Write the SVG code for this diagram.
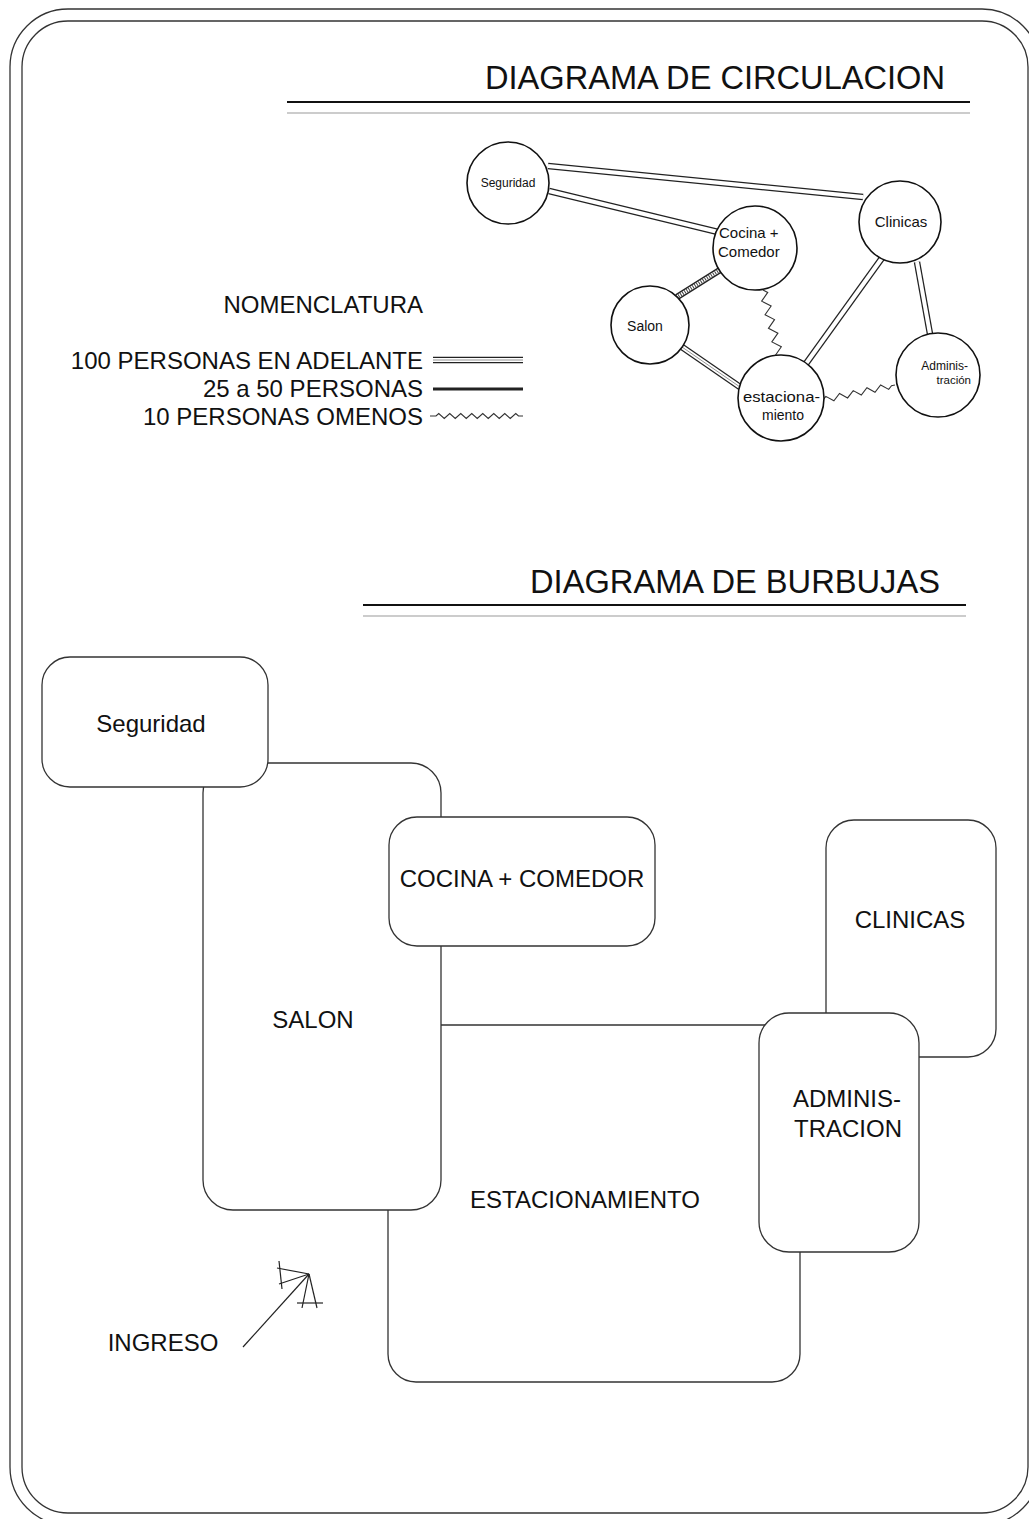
<svg xmlns="http://www.w3.org/2000/svg" width="1029" height="1519" viewBox="0 0 1029 1519">
<style>
text{font-family:"Liberation Sans",Arial,sans-serif;fill:#111}
.t24{font-size:24px}
.title{font-size:34px}
.frame{fill:none;stroke:#333;stroke-width:1.3}
.circ{fill:#fff;stroke:#111;stroke-width:1.6}
.bub{fill:#fff;stroke:#333;stroke-width:1.3}
.dblo{fill:none;stroke:#222;stroke-width:6.5}
.dbli{fill:none;stroke:#fff;stroke-width:4}
.trimid{fill:none;stroke:#888;stroke-width:0.9}
.zig{fill:none;stroke:#333;stroke-width:1.1;stroke-linejoin:miter}
.ln{fill:none;stroke:#222;stroke-width:1.2}
</style>
<rect width="1029" height="1519" fill="#fff"/>
<g id="frame">
<rect class="frame" x="10" y="9" width="1030" height="1516" rx="58"/>
<rect class="frame" x="22" y="21" width="1006" height="1492" rx="46"/>
</g>
<g id="title-circulacion">
<text class="title" x="485" y="89" textLength="460" lengthAdjust="spacingAndGlyphs">DIAGRAMA DE CIRCULACION</text>
<line x1="287" y1="102" x2="970" y2="102" stroke="#111" stroke-width="2.2"/>
<line x1="287" y1="113" x2="970" y2="113" stroke="#999" stroke-width="1.2"/>
</g>
<g id="legend">
<text class="t24" x="423" y="313" text-anchor="end">NOMENCLATURA</text>
<text class="t24" x="423" y="369" text-anchor="end">100 PERSONAS EN ADELANTE</text>
<text class="t24" x="423" y="397" text-anchor="end">25 a 50 PERSONAS</text>
<text class="t24" x="423" y="425" text-anchor="end">10 PERSONAS OMENOS</text>
<line class="dblo" x1="433" y1="360" x2="523" y2="360"/>
<line class="dbli" x1="433" y1="360" x2="523" y2="360"/>
<line class="trimid" x1="433" y1="360" x2="523" y2="360"/>
<line x1="433" y1="389" x2="523" y2="389" stroke="#222" stroke-width="3"/>
<path class="zig" d="M430,416 h6 l2.75,-2.5 l5.5,5 l5.5,-5 l5.5,5 l5.5,-5 l5.5,5 l5.5,-5 l5.5,5 l5.5,-5 l5.5,5 l5.5,-5 l5.5,5 l5.5,-5 l5.5,5 l5.5,-5 l2.75,2.5 h4.5"/>
</g>
<g id="connectors-circulacion">
<line class="dblo" x1="548" y1="166" x2="863" y2="197"/>
<line class="dbli" x1="548" y1="166" x2="863" y2="197"/>
<line class="dblo" x1="549" y1="191" x2="718" y2="232"/>
<line class="dbli" x1="549" y1="191" x2="718" y2="232"/>
<line x1="720" y1="270" x2="677" y2="297" stroke="#222" stroke-width="6.5"/>
<line x1="720" y1="270" x2="677" y2="297" stroke="#fff" stroke-width="3.8"/>
<line x1="720" y1="270" x2="677" y2="297" stroke="#444" stroke-width="3.8" stroke-dasharray="1 1.4"/>
<line class="dblo" x1="682" y1="347" x2="740" y2="387"/>
<line class="dbli" x1="682" y1="347" x2="740" y2="387"/>
<line class="trimid" x1="682" y1="347" x2="740" y2="387"/>
<line class="dblo" x1="882" y1="258" x2="805" y2="365"/>
<line class="dbli" x1="882" y1="258" x2="805" y2="365"/>
<line class="dblo" x1="917" y1="262" x2="930" y2="334"/>
<line class="dbli" x1="917" y1="262" x2="930" y2="334"/>
<path class="zig" transform="translate(763,290) rotate(75.96)" d="M0,0 l3.5,-4 l7,8 l7,-8 l7,8 l7,-8 l7,8 l7,-8 l7,8 l7,-8 l7,8 l3.5,-4"/>
<path class="zig" transform="translate(823,400) rotate(-11.77)" d="M0,0 l3.5,-3 l7,6 l7,-6 l7,6 l7,-6 l7,6 l7,-6 l7,6 l7,-6 l7,6 l3.5,-3 h3.5"/>
</g>
<g id="c-seguridad">
<circle class="circ" cx="508" cy="183" r="41"/>
<text x="508" y="187" text-anchor="middle" font-size="12">Seguridad</text>
</g>
<g id="c-cocina">
<circle class="circ" cx="755" cy="248" r="42"/>
<text x="719" y="238" font-size="15">Cocina +</text>
<text x="718" y="257" font-size="15">Comedor</text>
</g>
<g id="c-clinicas">
<circle class="circ" cx="900" cy="222" r="41"/>
<text x="901" y="227" text-anchor="middle" font-size="15">Clinicas</text>
</g>
<g id="c-salon">
<circle class="circ" cx="650" cy="325" r="39"/>
<text x="645" y="331" text-anchor="middle" font-size="14">Salon</text>
</g>
<g id="c-estacionamiento">
<circle class="circ" cx="781" cy="398" r="43"/>
<text x="743" y="402" font-size="15" textLength="77" lengthAdjust="spacingAndGlyphs">estaciona-</text>
<text x="783" y="420" text-anchor="middle" font-size="14">miento</text>
</g>
<g id="c-administracion">
<circle class="circ" cx="938" cy="375" r="42"/>
<text x="968" y="370" text-anchor="end" font-size="12">Adminis-</text>
<text x="971" y="384" text-anchor="end" font-size="11.5">tración</text>
</g>
<g id="title-burbujas">
<text class="title" x="530" y="593" textLength="410" lengthAdjust="spacingAndGlyphs">DIAGRAMA DE BURBUJAS</text>
<line x1="363" y1="605" x2="966" y2="605" stroke="#111" stroke-width="2.2"/>
<line x1="363" y1="616" x2="966" y2="616" stroke="#999" stroke-width="1.2"/>
</g>
<g id="b-estacionamiento">
<rect class="bub" x="388" y="1025" width="412" height="357" rx="28"/>
<text class="t24" x="585" y="1208" text-anchor="middle">ESTACIONAMIENTO</text>
</g>
<g id="b-salon">
<rect class="bub" x="203" y="763" width="238" height="447" rx="30"/>
<text class="t24" x="313" y="1028" text-anchor="middle">SALON</text>
</g>
<g id="b-seguridad">
<rect class="bub" x="42" y="657" width="226" height="130" rx="28"/>
<text class="t24" x="151" y="732" text-anchor="middle">Seguridad</text>
</g>
<g id="b-cocina">
<rect class="bub" x="389" y="817" width="266" height="129" rx="28"/>
<text class="t24" x="522" y="887" text-anchor="middle">COCINA + COMEDOR</text>
</g>
<g id="b-clinicas">
<rect class="bub" x="826" y="820" width="170" height="237" rx="28"/>
<text class="t24" x="910" y="928" text-anchor="middle">CLINICAS</text>
</g>
<g id="b-administracion">
<rect class="bub" x="759" y="1013" width="160" height="239" rx="30"/>
<text class="t24" x="847" y="1107" text-anchor="middle">ADMINIS-</text>
<text class="t24" x="848" y="1137" text-anchor="middle">TRACION</text>
</g>
<g id="ingreso">
<text class="t24" x="163" y="1351" text-anchor="middle">INGRESO</text>
<line class="ln" x1="243" y1="1347" x2="309" y2="1274"/>
<line class="ln" x1="309" y1="1274" x2="277" y2="1268"/>
<line class="ln" x1="309" y1="1274" x2="279" y2="1284"/>
<line class="ln" x1="309" y1="1274" x2="302" y2="1308"/>
<line class="ln" x1="309" y1="1274" x2="317" y2="1308"/>
<line class="ln" x1="279" y1="1261" x2="282" y2="1289"/>
<line class="ln" x1="297" y1="1303" x2="323" y2="1303"/>
</g>
</svg>
